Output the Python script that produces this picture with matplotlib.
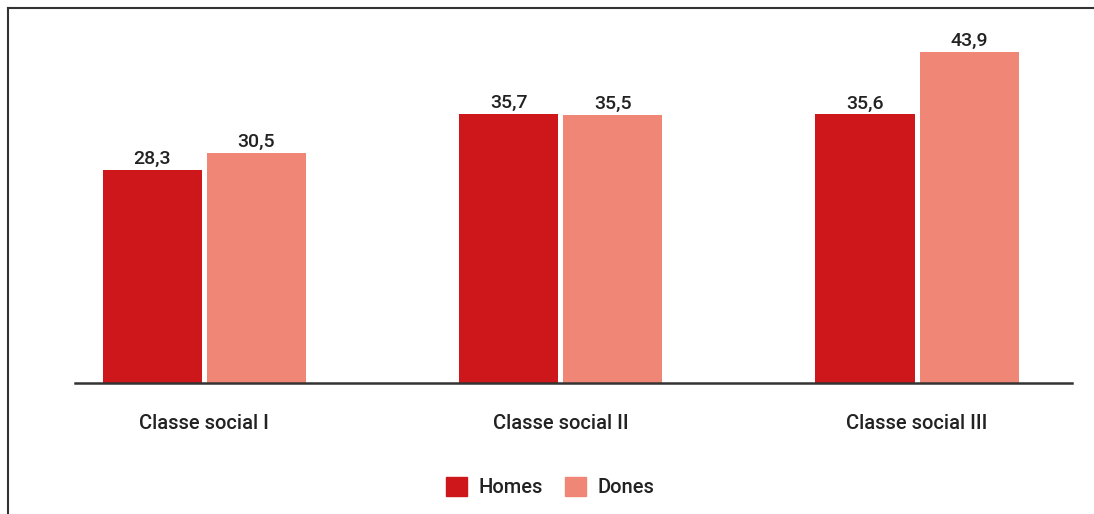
import matplotlib.pyplot as plt
import numpy as np
from matplotlib.patches import Patch
from matplotlib.lines import Line2D

plt.rcParams["font.family"] = ["Roboto", "DejaVu Sans"]

# Data
categories = ["Classe social I", "Classe social II", "Classe social III"]
homes = [28.3, 35.7, 35.6]
dones = [30.5, 35.5, 43.9]
series_names = ["Homes", "Dones"]
colors = ["#CE171A", "#F08675"]
text_color = "#222222"

fig = plt.figure(figsize=(10.94, 5.14), dpi=100)
ax = fig.add_axes([0.0686, 0.2549, 0.9113, 0.6868])

x = np.arange(len(categories))
width = 0.278
offset = 0.146

for vals, name, col, sign in [(homes, series_names[0], colors[0], -1),
                              (dones, series_names[1], colors[1], 1)]:
    bars = ax.bar(x + sign * offset, vals, width, color=col, label=name)
    for b, v in zip(bars, vals):
        ax.text(b.get_x() + b.get_width() / 2, v + 0.25, f"{v:.1f}".replace(".", ","),
                ha="center", va="bottom", fontsize=14, fontweight="medium",
                color=text_color)

ax.set_xlim(-0.363, 2.435)
ax.set_ylim(0, 46.8)
ax.set_xticks(x)
ax.set_xticklabels(categories, fontsize=14.5, fontweight="medium", color=text_color)
ax.tick_params(axis="x", length=0, pad=22)
ax.set_yticks([])
for s in ["top", "right", "left"]:
    ax.spines[s].set_visible(False)
ax.spines["bottom"].set_color("#333333")
ax.spines["bottom"].set_linewidth(1.8)

# outer frame (top and left)
fig.add_artist(Line2D([8 / 1094, 8 / 1094], [0, 1 - 8 / 514], transform=fig.transFigure,
                      color="#333333", lw=1.5))
fig.add_artist(Line2D([8 / 1094, 1], [1 - 8 / 514, 1 - 8 / 514], transform=fig.transFigure,
                      color="#333333", lw=1.5))

handles = [Patch(color=c, label=n) for c, n in zip(colors, series_names)]
fig.legend(handles=handles, loc="center", bbox_to_anchor=(550 / 1094, 1 - 487 / 514),
           ncol=2, frameon=False, prop={"size": 14.5, "weight": "medium"},
           handlelength=1.05, handleheight=1.05,
           handletextpad=0.55, columnspacing=1.1, labelcolor=text_color)

fig.savefig("out.png", dpi=100)
